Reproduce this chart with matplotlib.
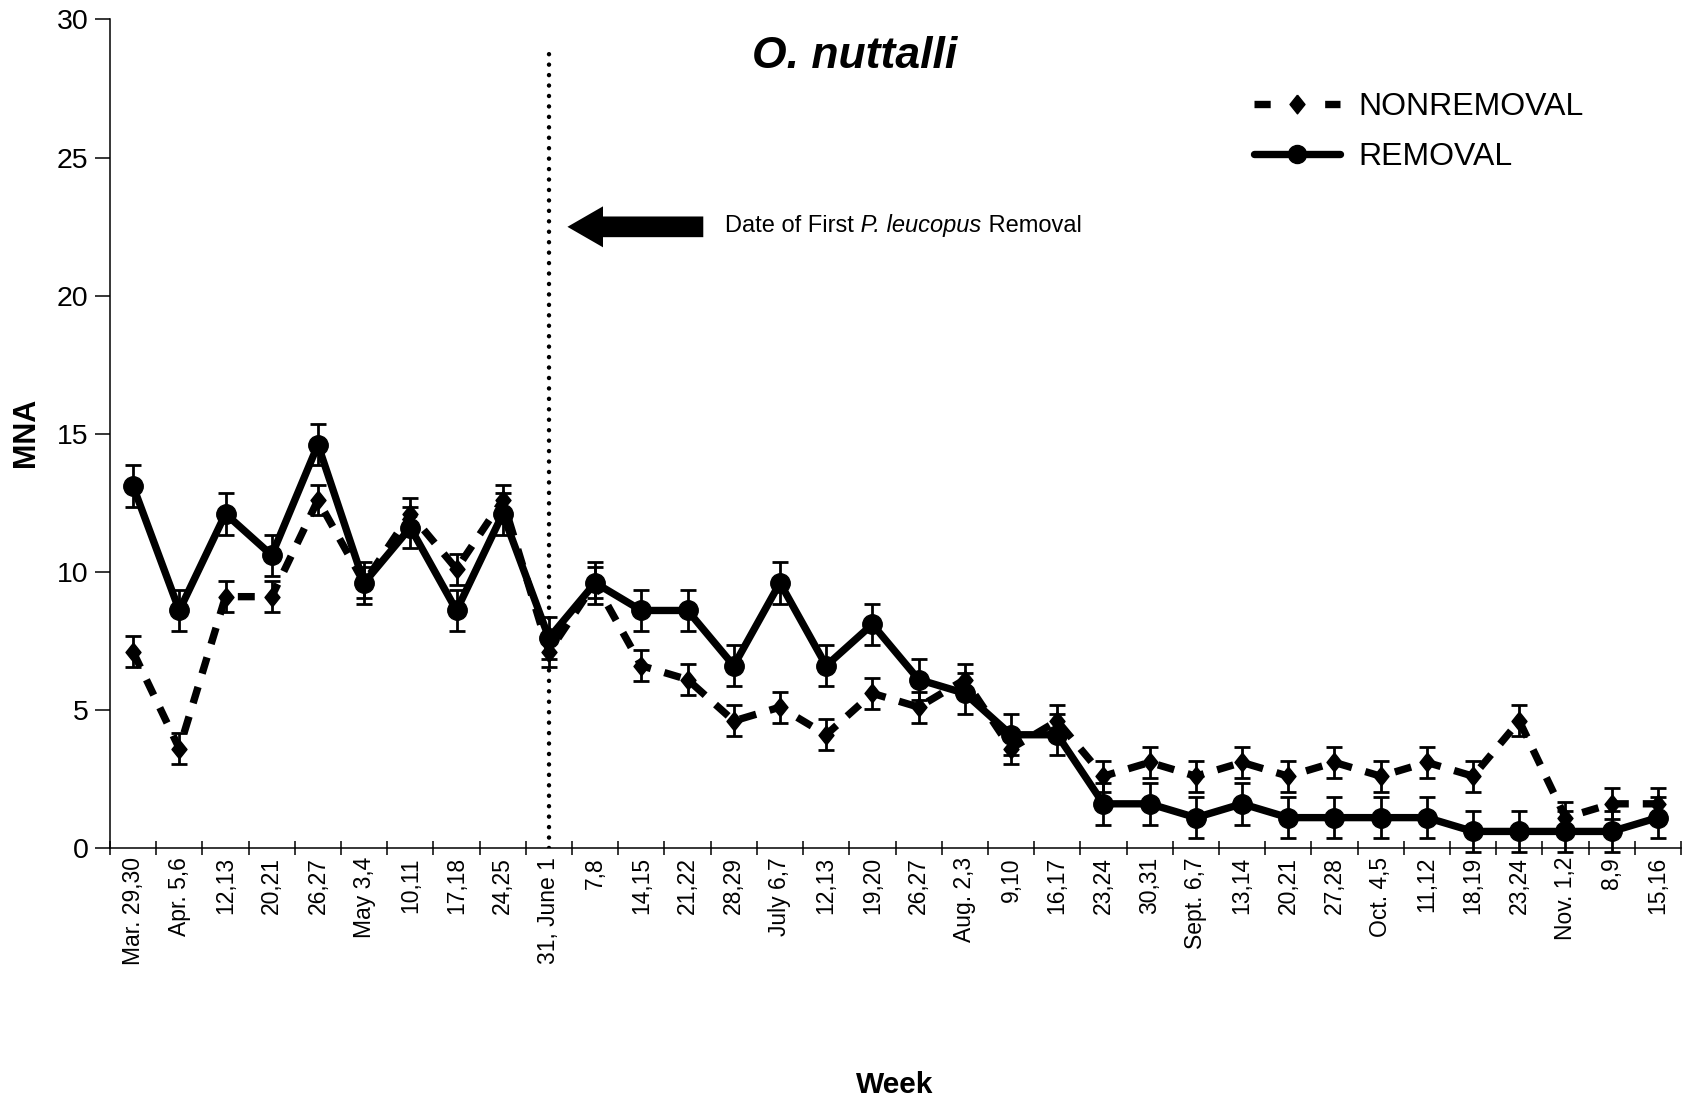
import matplotlib
matplotlib.use('Agg')
import matplotlib.pyplot as plt
from matplotlib.patches import FancyArrowPatch, ArrowStyle
from matplotlib.lines import Line2D
import numpy as np

plt.rcParams['font.family'] = ['Liberation Sans', 'DejaVu Sans']

weeks = ["Mar. 29,30", "Apr. 5,6", "12,13", "20,21", "26,27", "May 3,4", "10,11",
         "17,18", "24,25", "31, June 1", "7,8", "14,15", "21,22", "28,29", "July 6,7",
         "12,13", "19,20", "26,27", "Aug. 2,3", "9,10", "16,17", "23,24", "30,31",
         "Sept. 6,7", "13,14", "20,21", "27,28", "Oct. 4,5", "11,12", "18,19", "23,24",
         "Nov. 1,2", "8,9", "15,16"]

removal = [13.1, 8.6, 12.1, 10.6, 14.6, 9.6, 11.6, 8.6, 12.1, 7.6, 9.6, 8.6, 8.6, 6.6,
           9.6, 6.6, 8.1, 6.1, 5.6, 4.1, 4.1, 1.6, 1.6, 1.1, 1.6, 1.1, 1.1, 1.1, 1.1,
           0.6, 0.6, 0.6, 0.6, 1.1]
removal_err = [0.75, 0.75, 0.75, 0.75, 0.75, 0.75, 0.75, 0.75, 0.75, 0.75, 0.75, 0.75,
               0.75, 0.75, 0.75, 0.75, 0.75, 0.75, 0.75, 0.75, 0.75, 0.75, 0.75, 0.75,
               0.75, 0.75, 0.75, 0.75, 0.75, 0.75, 0.75, 0.75, 0.75, 0.75]

nonremoval = [7.1, 3.6, 9.1, 9.1, 12.6, 9.6, 12.1, 10.1, 12.6, 7.1, 9.6, 6.6, 6.1, 4.6,
              5.1, 4.1, 5.6, 5.1, 6.1, 3.6, 4.6, 2.6, 3.1, 2.6, 3.1, 2.6, 3.1, 2.6, 3.1,
              2.6, 4.6, 1.1, 1.6, 1.6]
nonremoval_err = [0.56, 0.56, 0.56, 0.56, 0.56, 0.56, 0.56, 0.56, 0.56, 0.56, 0.56, 0.56,
                  0.56, 0.56, 0.56, 0.56, 0.56, 0.56, 0.56, 0.56, 0.56, 0.56, 0.56, 0.56,
                  0.56, 0.56, 0.56, 0.56, 0.56, 0.56, 0.56, 0.56, 0.56, 0.56]

yticks = [0, 5, 10, 15, 20, 25, 30]
removal_week = 9          # index of "31, June 1"
vline_top = 29.1

W, H = 1688, 1101
fig = plt.figure(figsize=(W / 100, H / 100), dpi=100)
ax = fig.add_axes([110 / W, 1 - 848 / H, 1571 / W, 828.6 / H])
x = np.arange(len(weeks))

diamond = [(0, 1), (0.8, 0), (0, -1), (-0.8, 0), (0, 1)]
LW = 5.3

# nonremoval
ax.errorbar(x, nonremoval, yerr=nonremoval_err, fmt='none', ecolor='black',
            elinewidth=2, capsize=5.5, capthick=2, zorder=3, clip_on=False)
ax.plot(x, nonremoval, color='black', lw=LW, dashes=(2.3, 1.9), marker=diamond,
        ms=13.5, zorder=3.5, clip_on=False)
# removal
ax.errorbar(x, removal, yerr=removal_err, fmt='none', ecolor='black',
            elinewidth=2, capsize=5.5, capthick=2, zorder=4, clip_on=False)
ax.plot(x, removal, color='black', lw=LW, marker='o', ms=14,
        zorder=4.5, clip_on=False)

# vertical dotted line
ax.plot([removal_week, removal_week], [0, vline_top], color='black', lw=3.2,
        linestyle=(0, (0.01, 2.34)), dash_capstyle='round', zorder=2)

# arrow
arrow = FancyArrowPatch((12.34, 22.49), (9.40, 22.49),
                        arrowstyle=ArrowStyle.Simple(head_length=2.56, head_width=2.95,
                                                     tail_width=1.49),
                        mutation_scale=10, fc='black', ec='none', lw=0,
                        shrinkA=0, shrinkB=0, zorder=5)
ax.add_patch(arrow)
t1 = ax.text(12.82, 22.52, 'Date of First', fontsize=17, ha='left', va='center')
t2 = ax.annotate(' P. leucopus', xy=(1, 0), xycoords=t1, fontsize=17,
                 fontstyle='italic', ha='left', va='bottom')
t3 = ax.annotate(' Removal', xy=(1, 0), xycoords=t2, fontsize=17,
                 ha='left', va='bottom')

ax.set_xlim(-0.5, len(weeks) - 0.5)
ax.set_ylim(0, 30)
ax.set_yticks(yticks)
ax.set_xticks(x)
ax.set_xticklabels(weeks, rotation=90, fontsize=16.5)
ax.set_xticks(np.arange(-0.5, len(weeks), 1), minor=True)
ax.tick_params(axis='x', which='major', length=0, pad=6.5)
ax.tick_params(axis='x', which='minor', direction='inout', length=9.5, width=1.1)
ax.tick_params(axis='y', direction='out', length=11, width=1.1, labelsize=20.5, pad=4.5)
for s in ['top', 'right']:
    ax.spines[s].set_visible(False)
for s in ['left', 'bottom']:
    ax.spines[s].set_linewidth(1.1)

fig.text(855 / W, 1 - 57 / H, 'O. nuttalli', fontsize=32, fontweight='bold',
         fontstyle='italic', ha='center', va='center')
fig.text(26.5 / W, 1 - 432 / H, 'MNA', rotation=90, fontsize=22, fontweight='bold',
         ha='center', va='center')
fig.text(895 / W, 1 - 1085 / H, 'Week', fontsize=21.5, fontweight='bold',
         ha='center', va='center')

h_non = Line2D([], [], color='black', lw=LW, dashes=(2.2, 7.4), marker=diamond, ms=13.5)
h_rem = Line2D([], [], color='black', lw=LW, marker='o', ms=13, solid_capstyle='round')
ax.legend([h_non, h_rem], ['NONREMOVAL', 'REMOVAL'], loc='upper left',
          bbox_to_anchor=(1254 / W, 1 - 92 / H), bbox_transform=fig.transFigure,
          frameon=False, fontsize=23, borderpad=0, borderaxespad=0,
          handlelength=2.7, handletextpad=0.56, labelspacing=0.63, numpoints=1)

fig.savefig('out.png', dpi=100)
